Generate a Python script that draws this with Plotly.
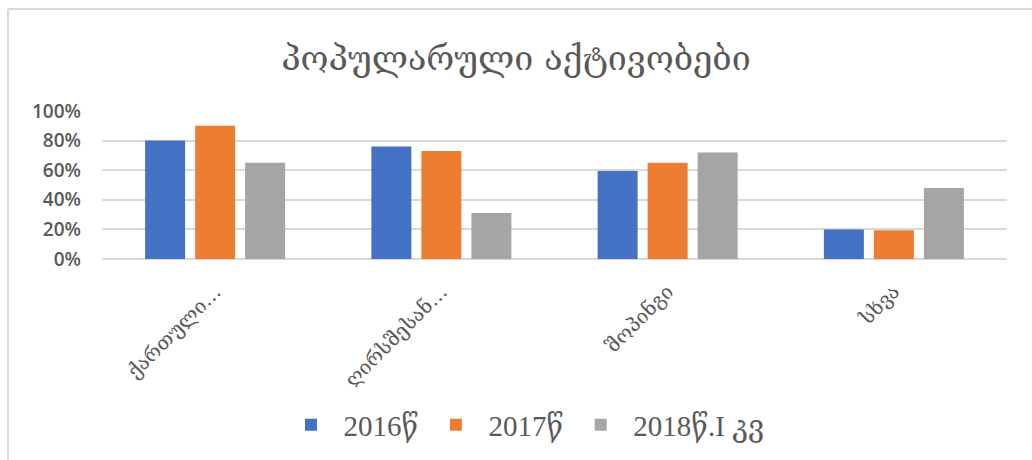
import plotly.graph_objects as go

title_text = "პოპულარული აქტივობები"
categories = ["ქართული…", "ღირსშესან…", "შოპინგი", "სხვა"]
series_names = ["2016წ", "2017წ", "2018წ.I კვ"]
values_2016 = [0.80, 0.76, 0.595, 0.20]
values_2017 = [0.90, 0.73, 0.65, 0.195]
values_2018 = [0.65, 0.31, 0.72, 0.48]
y_ticks = [0, 0.2, 0.4, 0.6, 0.8, 1.0]
colors = ["#4472C4", "#ED7D31", "#A5A5A5"]

W, H = 1032, 460
L, R, T, B = 102, 25, 111, 201
pw, ph = W - L - R, H - T - B

fig = go.Figure()
for name, vals, col in zip(series_names, [values_2016, values_2017, values_2018], colors):
    fig.add_trace(go.Bar(x=categories, y=vals, name=name, marker=dict(color=col, line=dict(width=0))))

def px_x(p):
    return (p - L) / pw

def px_y(p):
    return (H - B - p) / ph

fig.update_layout(
    width=W, height=H,
    margin=dict(l=L, r=R, t=T, b=B, autoexpand=False),
    paper_bgcolor="white", plot_bgcolor="white",
    barmode="group", bargap=0.337, bargroupgap=0.2,
    title=dict(text=title_text, x=0.5, xanchor="center", y=1 - 58 / H, yanchor="middle",
               font=dict(family="DejaVu Serif", size=34, color="#595959")),
    showlegend=True,
    legend=dict(orientation="h", x=px_x(524), xanchor="center", y=px_y(425), yanchor="middle",
                font=dict(family="Liberation Serif, DejaVu Serif", size=29, color="#595959"),
                itemwidth=55, tracegroupgap=0),
    xaxis=dict(showgrid=False, showline=False, ticks="", tickangle=-45,
               tickfont=dict(family="DejaVu Serif", size=20, color="#595959"),
               ticklabelstandoff=16),
    yaxis=dict(range=[0, 1], tickvals=y_ticks, tickformat=".0%", showgrid=True,
               gridcolor="#D9D9D9", gridwidth=1.5, zeroline=True, zerolinecolor="#D9D9D9",
               zerolinewidth=1.5, showline=False, ticks="",
               tickfont=dict(family="Open Sans", size=19, color="#595959", weight=600),
               ticklabelstandoff=20),
    shapes=[
        dict(type="line", xref="paper", yref="paper", x0=px_x(8), x1=px_x(8), y0=px_y(9), y1=px_y(H),
             line=dict(color="#D9D9D9", width=2)),
        dict(type="line", xref="paper", yref="paper", x0=px_x(8), x1=px_x(W), y0=px_y(9), y1=px_y(9),
             line=dict(color="#D9D9D9", width=2)),
    ],
)

fig.write_html("out.html", config={"displayModeBar": False},
               post_script="document.body.style.margin='0';document.body.style.overflow='hidden';")
